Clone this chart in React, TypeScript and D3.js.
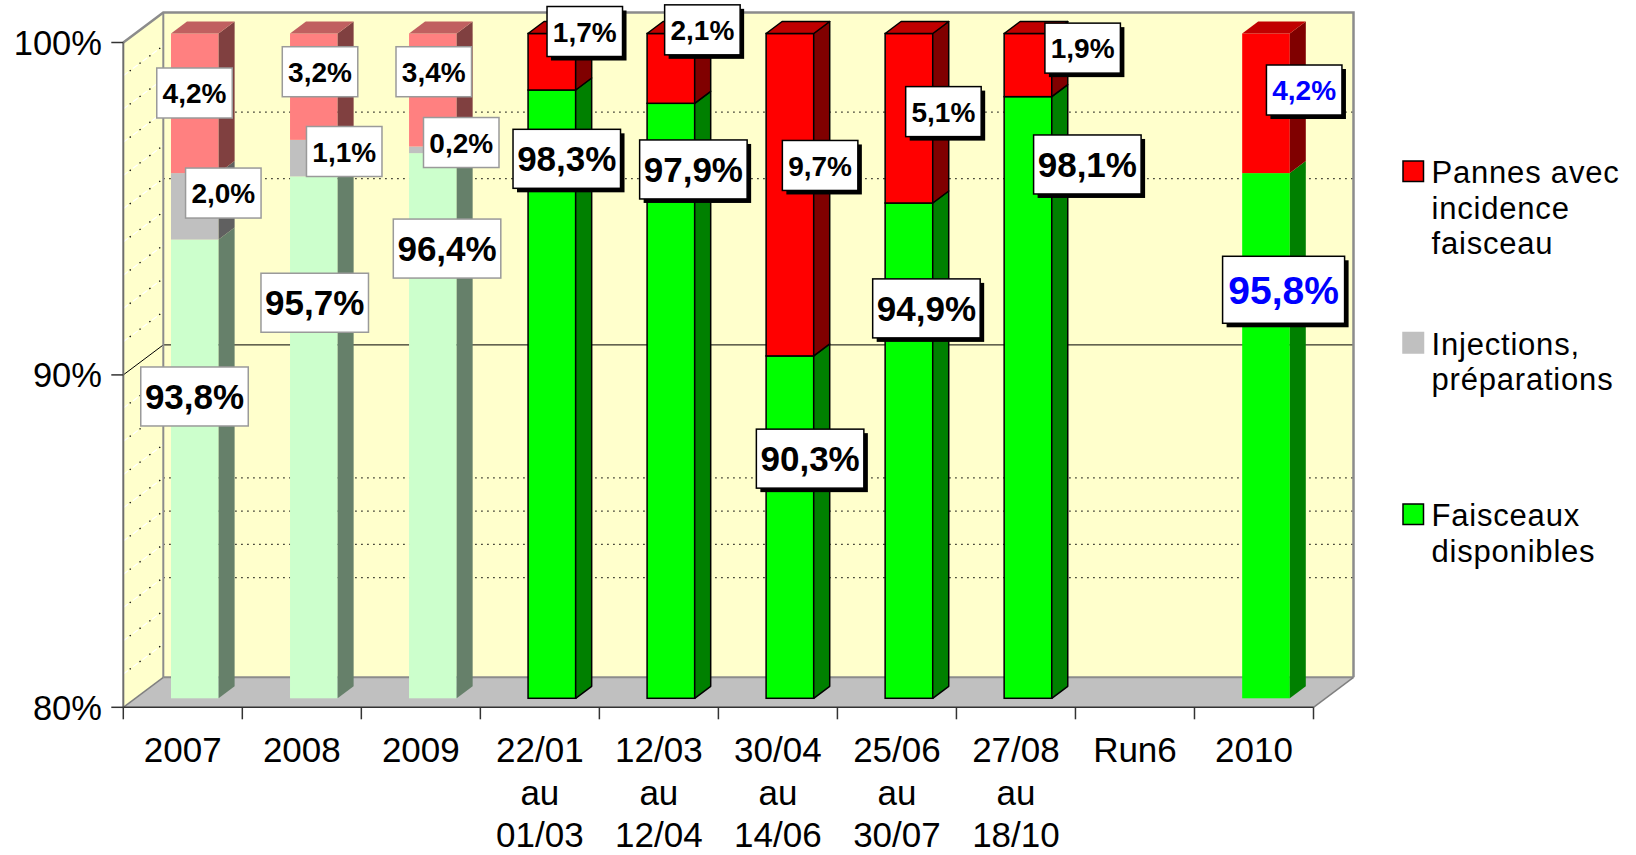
import React from "react";
import * as d3 from "d3";

// ---- data ----
const categories: string[][] = [
  ["2007"], ["2008"], ["2009"],
  ["22/01", "au", "01/03"], ["12/03", "au", "12/04"], ["30/04", "au", "14/06"],
  ["25/06", "au", "30/07"], ["27/08", "au", "18/10"],
  ["Run6"], ["2010"],
];
const faisceaux: (number | null)[] = [93.8, 95.7, 96.4, 98.3, 97.9, 90.3, 94.9, 98.1, null, 95.8];
const injections: (number | null)[] = [2.0, 1.1, 0.2, 0, 0, 0, 0, 0, null, 0];
const pannes: (number | null)[] = [4.2, 3.2, 3.4, 1.7, 2.1, 9.7, 5.1, 1.9, null, 4.2];
const groups: string[] = ["pale", "pale", "pale", "bright", "bright", "bright", "bright", "bright", "bright", "summary"];
const yTicks = [80, 90, 100];
const backGrid = [83, 84, 85, 86, 95, 97];
const legendItems = [
  { key: "red", lines: ["Pannes avec", "incidence", "faisceau"] },
  { key: "grey", lines: ["Injections,", "préparations"] },
  { key: "green", lines: ["Faisceaux", "disponibles"] },
];

// ---- layout (label nudges: [dx px, centre value]) per series green/grey/red ----
const labelLayout: ([number, number] | null)[][] = [
  [[-0.3, 89.08], [28.5, 95.2], [-0.3, 98.21]],
  [[0.9, 91.9], [30.4, 96.45], [6.2, 98.85]],
  [[14.2, 93.53], [28.4, 96.72], [0.9, 98.85]],
  [[14.9, 96.23], null, [32.9, 100.06]],
  [[22.5, 95.91], null, [31.5, 100.11]],
  [[20.2, 87.21], null, [30.2, 96.03]],
  [[17.5, 91.73], null, [34.5, 97.65]],
  [[59.4, 96.06], null, [54.7, 99.56]],
  [null, null, null],
  [[17.6, 92.29], null, [38.2, 98.3]],
];

const W = 1636, H = 855;
const X0 = 123.3, X1 = 1313.5, YB = 707.3, YT = 42.5;
const DX = 40, DY = -30;
const FF = 0.3, FB = 0.7;
const FONT = "'Liberation Sans', Arial, sans-serif";

const palette: Record<string, Record<string, { front: string; side: string; top: string }>> = {
  pale: {
    green: { front: "#CCFFCC", side: "#66806A", top: "#99BF99" },
    grey: { front: "#C0C0C0", side: "#606060", top: "#909090" },
    red: { front: "#FF8080", side: "#804040", top: "#C06060" },
  },
  bright: {
    green: { front: "#00FF00", side: "#008000", top: "#00C000" },
    grey: { front: "#C0C0C0", side: "#606060", top: "#909090" },
    red: { front: "#FF0000", side: "#800000", top: "#C00000" },
  },
  summary: {
    green: { front: "#00FF00", side: "#008000", top: "#00C000" },
    grey: { front: "#C0C0C0", side: "#606060", top: "#909090" },
    red: { front: "#FF0000", side: "#800000", top: "#C00000" },
  },
};

const fmt = (v: number) => v.toFixed(1).replace(".", ",") + "%";

export default function App() {
  const x = d3.scaleBand<number>().domain(d3.range(categories.length)).range([X0, X1]);
  const y = d3.scaleLinear().domain([80, 100]).range([YB, YT]);
  const bw = x.bandwidth();
  const barW = bw * 0.4;
  const fdx = DX * FF, fdy = DY * FF;
  const sdx = DX * (FB - FF), sdy = DY * (FB - FF);
  const pts = (p: number[][]) => p.map((q) => q.join(",")).join(" ");

  const series = [
    { key: "green", values: faisceaux },
    { key: "grey", values: injections },
    { key: "red", values: pannes },
  ];

  const bars: JSX.Element[] = [];
  const labels: JSX.Element[] = [];

  categories.forEach((_, i) => {
    const g = groups[i];
    const cx = (x(i) as number) + bw / 2 + fdx;
    const x0 = cx - barW / 2, x1 = cx + barW / 2;
    const stroke = g === "bright" ? "#000" : "none";
    const sw = g === "bright" ? 1.5 : 0;
    let acc = 80;
    const segs: { key: string; v0: number; v1: number; val: number }[] = [];
    series.forEach((s) => {
      const v = s.values[i];
      if (v == null || v <= 0) return;
      const start = s.key === "green" ? 80 : acc;
      const end = s.key === "green" ? v : acc + v;
      segs.push({ key: s.key, v0: start, v1: end, val: v });
      acc = end;
    });
    segs.forEach((sg, k) => {
      const c = palette[g][sg.key];
      const ya = y(sg.v0) + fdy, yb = y(Math.min(sg.v1, 100)) + fdy;
      bars.push(
        <g key={`b${i}-${k}`}>
          <rect x={x0} y={yb} width={barW} height={ya - yb} fill={c.front} stroke={stroke} strokeWidth={sw} />
          <polygon
            points={pts([[x1, ya], [x1 + sdx, ya + sdy], [x1 + sdx, yb + sdy], [x1, yb]])}
            fill={c.side} stroke={stroke} strokeWidth={sw} strokeLinejoin="round"
          />
          {k === segs.length - 1 && (
            <polygon
              points={pts([[x0, yb], [x0 + sdx, yb + sdy], [x1 + sdx, yb + sdy], [x1, yb]])}
              fill={c.top} stroke={stroke} strokeWidth={sw} strokeLinejoin="round"
            />
          )}
        </g>
      );
    });

    // labels
    series.forEach((s, si) => {
      const v = s.values[i];
      const lay = labelLayout[i][si];
      if (v == null || v <= 0 || !lay) return;
      const big = s.key === "green";
      const summ = g === "summary";
      const bwid = big ? (summ ? 122 : 107.5) : 75.5;
      const bh = big ? (summ ? 67 : 59) : 50;
      const fs = big ? (summ ? 39 : 35) : 28;
      const lx = cx + lay[0];
      const ly = y(lay[1]) + fdy;
      const shadow = g !== "pale";
      labels.push(
        <g key={`l${i}-${si}`}>
          {shadow && (
            <rect x={lx - bwid / 2 + 4} y={ly - bh / 2 + 4} width={bwid} height={bh} fill="#000" />
          )}
          <rect
            x={lx - bwid / 2} y={ly - bh / 2} width={bwid} height={bh} fill="#fff"
            stroke={shadow ? "#000" : "#9a9a9a"} strokeWidth={1.5}
          />
          <text
            x={lx} y={ly} dy="0.36em" textAnchor="middle" fontFamily={FONT} fontWeight="bold"
            fontSize={fs} fill={summ ? "#0000FF" : "#000"}
          >
            {fmt(v)}
          </text>
        </g>
      );
    });
  });

  const sideLine = (v: number) => [[X0, y(v)], [X0 + DX, y(v) + DY]];

  return (
    <svg width={W} height={H} style={{ position: "absolute", left: 0, top: 0, background: "#fff" }}>
      {/* back wall */}
      <rect x={X0 + DX} y={YT + DY} width={X1 - X0} height={YB - YT} fill="#FFFFCC" />
      {/* side wall */}
      <polygon points={pts([[X0, YT], [X0 + DX, YT + DY], [X0 + DX, YB + DY], [X0, YB]])} fill="#FFFFCC" />
      {/* gridlines on back wall */}
      {backGrid.map((v) => (
        <line key={`bg${v}`} x1={X0 + DX} x2={X1 + DX} y1={y(v) + DY} y2={y(v) + DY}
          stroke="#000" strokeWidth={1.2} strokeDasharray="1.3 4.7" />
      ))}
      <line x1={X0 + DX} x2={X1 + DX} y1={y(90) + DY} y2={y(90) + DY} stroke="#000" strokeWidth={1} />
      {/* gridlines on side wall */}
      {d3.range(81, 100).filter((v) => v !== 90).map((v) => {
        const l = sideLine(v);
        return (
          <g key={`sg${v}`}>
            <line x1={l[0][0]} y1={l[0][1]} x2={l[1][0]} y2={l[1][1]} stroke="#fff" strokeWidth={1.2} strokeDasharray="6 6" />
            <line x1={l[0][0]} y1={l[0][1]} x2={l[1][0]} y2={l[1][1]} stroke="#000" strokeWidth={1.3} strokeDasharray="1.3 11" strokeDashoffset={-8} />
          </g>
        );
      })}
      {(() => {
        const l = sideLine(90);
        return <line x1={l[0][0]} y1={l[0][1]} x2={l[1][0]} y2={l[1][1]} stroke="#000" strokeWidth={1} />;
      })()}
      {/* wall borders */}
      <polyline
        points={pts([[X0, YT], [X0 + DX, YT + DY], [X1 + DX, YT + DY], [X1 + DX, YB + DY]])}
        fill="none" stroke="#8c8c8c" strokeWidth={2.5}
      />
      <line x1={X0 + DX} x2={X0 + DX} y1={YT + DY} y2={YB + DY} stroke="#8c8c8c" strokeWidth={2} />
      {/* floor */}
      <polygon points={pts([[X0, YB], [X1, YB], [X1 + DX, YB + DY], [X0 + DX, YB + DY]])} fill="#C0C0C0" />
      <line x1={X0 + DX} x2={X1 + DX} y1={YB + DY} y2={YB + DY} stroke="#8c8c8c" strokeWidth={2} />
      <line x1={X1} y1={YB} x2={X1 + DX} y2={YB + DY} stroke="#808080" strokeWidth={1.5} />
      <line x1={X0} y1={YB} x2={X0 + DX} y2={YB + DY} stroke="#808080" strokeWidth={1.5} />
      {/* bars */}
      {bars}
      {/* axes */}
      <line x1={X0} x2={X0} y1={YT} y2={YB} stroke="#6e6e6e" strokeWidth={2} />
      {yTicks.map((v) => (
        <g key={`yt${v}`}>
          <line x1={X0 - 12} x2={X0} y1={y(v)} y2={y(v)} stroke="#333" strokeWidth={1.5} />
          <text x={102} y={y(v)} dy="0.36em" textAnchor="end" fontFamily={FONT} fontSize={34.5} fill="#000">
            {v}%
          </text>
        </g>
      ))}
      <line x1={X0} x2={X1} y1={YB} y2={YB} stroke="#333" strokeWidth={1.5} />
      {d3.range(categories.length + 1).map((k) => {
        const xx = k < categories.length ? (x(k) as number) : X1;
        return <line key={`xt${k}`} x1={xx} x2={xx} y1={YB} y2={YB + 12} stroke="#333" strokeWidth={1.5} />;
      })}
      {categories.map((lines, i) => (
        <text key={`xl${i}`} textAnchor="middle" fontFamily={FONT} fontSize={35} fill="#000">
          {lines.map((t, j) => (
            <tspan key={j} x={(x(i) as number) + bw / 2} y={YB + 55 + j * 42.5}>{t}</tspan>
          ))}
        </text>
      ))}
      {/* labels */}
      {labels}
      {/* legend */}
      {legendItems.map((it, k) => {
        const base = 183 + k * 171.5;
        const c = palette.bright[it.key];
        return (
          <g key={`lg${k}`}>
            <rect x={1403} y={base - 22} width={20.5} height={20.5} fill={c.front}
              stroke={it.key === "grey" ? "#C0C0C0" : "#000"} strokeWidth={1.5} />
            <text fontFamily={FONT} fontSize={31} letterSpacing={0.8} fill="#000">
              {it.lines.map((t, j) => (
                <tspan key={j} x={1431.5} y={base + j * 35.5}>{t}</tspan>
              ))}
            </text>
          </g>
        );
      })}
    </svg>
  );
}
